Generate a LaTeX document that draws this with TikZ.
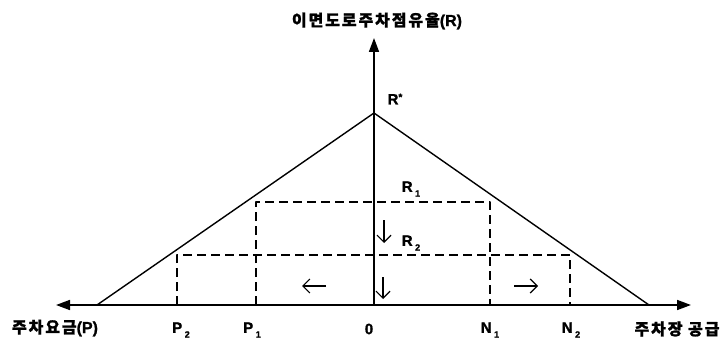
\documentclass[tikz,border=0pt]{standalone}
\usepackage{fontspec}
\setmainfont{Noto Sans CJK KR}[FakeBold=1.2,LetterSpace=12]
\newfontfamily\latinfont{Liberation Sans}[FakeBold=1.2]
\usetikzlibrary{arrows.meta}
\newcommand{\lowidx}[1]{\,\raisebox{-.6ex}{\fontsize{9}{9}\selectfont #1}}

\tikzset{
  axisline/.style={line width=1.7pt,-{Triangle[length=14pt,width=10pt]}},
  curveline/.style={line width=1.4pt},
  guideline/.style={line width=1.4pt,dash pattern=on 9pt off 5pt},
  lbl/.style={font=\fontsize{16}{17}\selectfont\bfseries,inner sep=0pt},
  latin/.style={font=\latinfont\fontsize{15}{15}\selectfont\bfseries,inner sep=0pt},
  moveto/.style={line width=1.2pt,-{Straight Barb[length=7pt,width=14pt]}}
}

\begin{document}
\begin{tikzpicture}[x=1pt,y=-1pt,line join=round]
  \useasboundingbox (0,0) rectangle (728,345);

  % Assi e vertici del triangolo.
  \coordinate (origin) at (374,305);
  \coordinate (rtip) at (374,38);
  \coordinate (ptip) at (56,305);
  \coordinate (ntip) at (691,305);
  \coordinate (apex) at (374,113);
  \coordinate (pbase) at (97,305);
  \coordinate (nbase) at (649,305);

  % Rettangoli tratteggiati.
  \coordinate (p1top) at (256,202);
  \coordinate (n1top) at (490,202);
  \coordinate (p2top) at (177,255);
  \coordinate (n2top) at (570,255);
  \coordinate (p1bot) at (256,305);
  \coordinate (n1bot) at (490,305);
  \coordinate (p2bot) at (177,305);
  \coordinate (n2bot) at (570,305);

  \draw[axisline] (origin) -- (rtip);
  \draw[axisline] (origin) -- (ptip);
  \draw[axisline] (origin) -- (ntip);
  \draw[curveline] (pbase) -- (apex) -- (nbase);

  \draw[guideline] (p1bot) -- (p1top) -- (n1top) -- (n1bot);
  \draw[guideline] (p2bot) -- (p2top) -- (n2top) -- (n2bot);

  % Frecce di spostamento.
  \coordinate (downonefrom) at (384,220);
  \coordinate (downoneto) at (384,243);
  \coordinate (downtwofrom) at (383,277);
  \coordinate (downtwoto) at (383,299);
  \coordinate (leftfrom) at (326,286);
  \coordinate (leftto) at (302,286);
  \coordinate (rightfrom) at (514,286);
  \coordinate (rightto) at (538,286);
  \draw[moveto] (downonefrom) -- (downoneto);
  \draw[moveto] (downtwofrom) -- (downtwoto);
  \draw[moveto] (leftfrom) -- (leftto);
  \draw[moveto] (rightfrom) -- (rightto);

  % Testi.
  \node[lbl] (rlabel) at (377,21) {이면도로주차점유율{\latinfont(R)}};
  \node[lbl] (plabel) at (55,328) {주차요금{\latinfont(P)}};
  \node[lbl] (nlabel) at (677,329) {주차장 공급};
  \node[latin] (rstar) at (395,99) {R\raisebox{.5ex}{\fontsize{10}{10}\selectfont *}};
  \node[latin] (rone) at (411,189) {R\lowidx{1}};
  \node[latin] (rtwo) at (411,243) {R\lowidx{2}};
  \node[latin] (ptwo) at (181,330) {P\lowidx{2}};
  \node[latin] (pone) at (252,330) {P\lowidx{1}};
  \node[latin] (zero) at (369,329) {0};
  \node[latin] (none) at (490,330) {N\lowidx{1}};
  \node[latin] (ntwo) at (571,330) {N\lowidx{2}};
\end{tikzpicture}
\end{document}
